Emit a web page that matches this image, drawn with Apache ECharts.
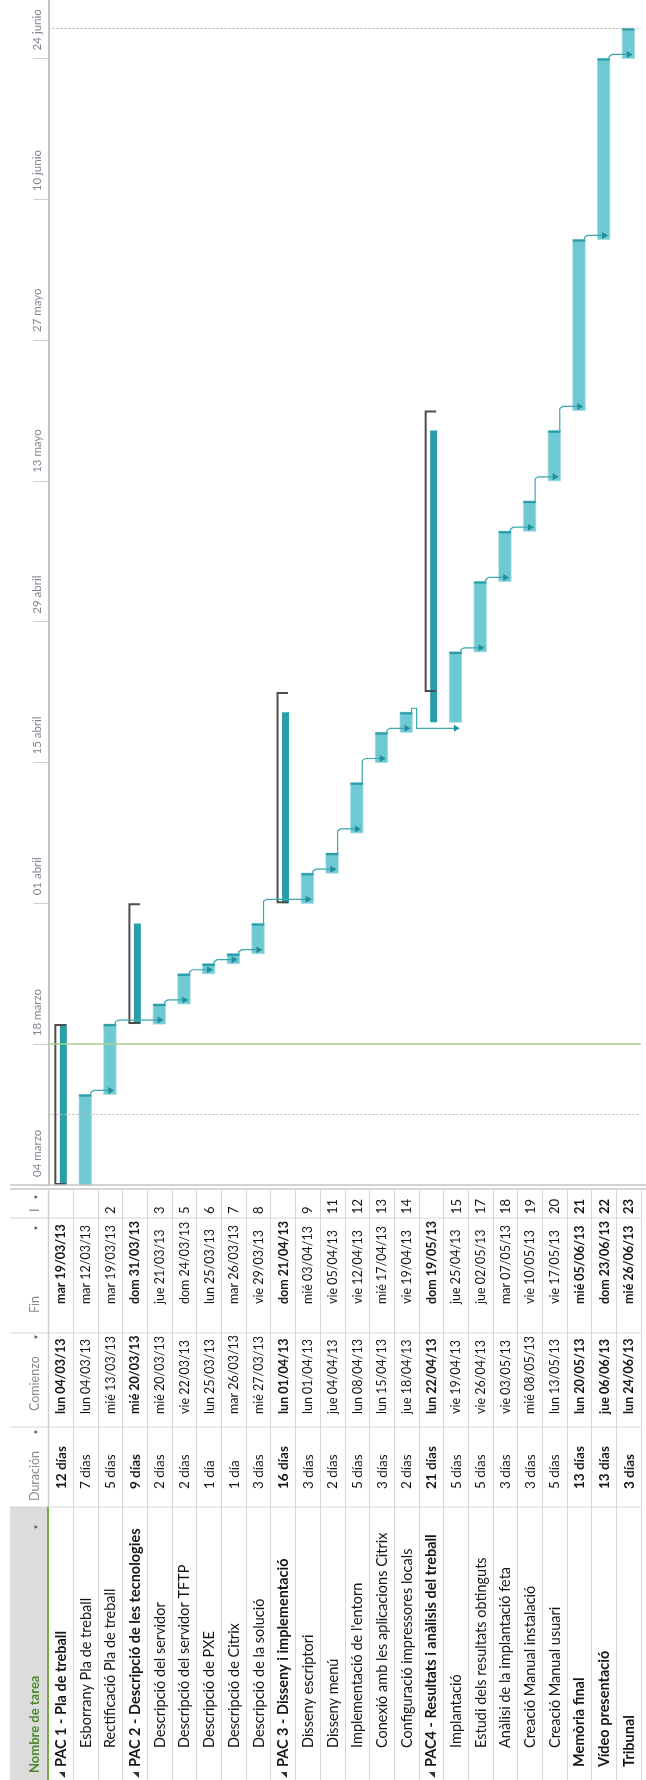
<!DOCTYPE html>
<html><head><meta charset="utf-8">
<script src="https://cdn.jsdelivr.net/npm/echarts@6/dist/echarts.min.js"></script>
<style>html,body{margin:0;padding:0;background:#fff}#c{width:646px;height:1780px}</style>
</head><body><div id="c"></div>
<script>
// ---------------- DATA ----------------
const taskNames = [
  'PAC 1 - Pla de treball','Esborrany Pla de treball','Rectificació Pla de treball',
  'PAC 2 - Descripció de les tecnologies','Descripció del servidor','Descripció del servidor TFTP',
  'Descripció de PXE','Descripció de Citrix','Descripció de la solució',
  'PAC 3 - Disseny i implementació','Disseny escriptori','Disseny menú',
  "Implementació de l'entorn",'Conexió amb les aplicacions Citrix','Configuració impressores locals',
  'PAC4 - Resultats i anàlisis del treball','Implantació','Estudi dels resultats obtinguts',
  'Anàlisi de la implantació feta','Creació Manual instalació','Creació Manual usuari',
  'Memòria final','Vídeo presentació','Tribunal'
];
const durations = [12,7,5,9,2,2,1,1,3,16,3,2,5,3,2,21,5,5,3,3,5,13,13,3];
const startDates = [
  '2013-03-04','2013-03-04','2013-03-13','2013-03-20','2013-03-20','2013-03-22',
  '2013-03-25','2013-03-26','2013-03-27','2013-04-01','2013-04-01','2013-04-04',
  '2013-04-08','2013-04-15','2013-04-18','2013-04-22','2013-04-19','2013-04-26',
  '2013-05-03','2013-05-08','2013-05-13','2013-05-20','2013-06-06','2013-06-24'
];
const endDates = [
  '2013-03-19','2013-03-12','2013-03-19','2013-03-31','2013-03-21','2013-03-24',
  '2013-03-25','2013-03-26','2013-03-29','2013-04-21','2013-04-03','2013-04-05',
  '2013-04-12','2013-04-17','2013-04-19','2013-05-19','2013-04-25','2013-05-02',
  '2013-05-07','2013-05-10','2013-05-17','2013-06-05','2013-06-23','2013-06-26'
];
const predecessors = ['','','2','','3','5','6','7','8','','9','11','12','13','14','','15','17','18','19','20','21','22','23'];
const outlineLevel = [0,1,1,0,1,1,1,1,1,0,1,1,1,1,1,0,1,1,1,1,1,0,0,0];
const isSummary    = [1,0,0,1,0,0,0,0,0,1,0,0,0,0,0,1,0,0,0,0,0,0,0,0];
const columnTitles = ['Nombre de tarea','Duración','Comienzo','Fin','I'];
const tickLabels = ['04 marzo','18 marzo','01 abril','15 abril','29 abril','13 mayo','27 mayo','10 junio','24 junio'];
const axisStart = '2013-03-04';
const tickDays = 14;
const currentDate = '2013-03-18';
const markerDates = ['2013-03-11','2013-06-27'];
const dayNames = ['dom','lun','mar','mié','jue','vie','sáb'];

// ---------------- HELPERS ----------------
function utc(s){const p=s.split('-').map(Number);return Date.UTC(p[0],p[1]-1,p[2]);}
const T0 = utc(axisStart);
function dayOf(s){return (utc(s)-T0)/86400000;}
function fmtDate(s){const d=new Date(utc(s));const p=n=>String(n).padStart(2,'0');
  return dayNames[d.getUTCDay()]+' '+p(d.getUTCDate())+'/'+p(d.getUTCMonth()+1)+'/'+String(d.getUTCFullYear()).slice(2);}
function fmtDur(n){return n+(n===1?' día':' días');}

const FONT='Lato';
const C_BAR='#6fc9d2', C_BAR_EDGE='#a3dde3', C_DARK='#2a9ea8', C_LINK='#3aa7b1';
const TXT='#161616';

// rollup spans of summary tasks
const rollStart=[], rollEnd=[];
for(let i=0;i<taskNames.length;i++){
  if(isSummary[i]){
    let s=Infinity,e=-Infinity;
    for(let j=i+1;j<taskNames.length && outlineLevel[j]>0;j++){
      s=Math.min(s,dayOf(startDates[j]));e=Math.max(e,dayOf(endDates[j])+1);
    }
    rollStart.push(s);rollEnd.push(e);
  } else {rollStart.push(0);rollEnd.push(0);}
}
const barData = taskNames.map((n,i)=>[i,dayOf(startDates[i]),dayOf(endDates[i])+1,isSummary[i],rollStart[i],rollEnd[i]]);
const linkData = [];
predecessors.forEach((p,i)=>{ if(p!==''){const k=Number(p)-1; linkData.push([k,dayOf(endDates[k])+1,i,dayOf(startDates[i])]);} });

// ---------------- RENDERERS ----------------
function renderBar(params, api){
  const i=api.value(0), s=api.value(1), e=api.value(2), summ=api.value(3);
  const bw=api.size([1,0])[0];
  const p0=api.coord([i,s]), p1=api.coord([i,e]);
  const cx=p0[0], hw=bw*0.25;
  const ch=[];
  if(!summ){
    ch.push({type:'rect',shape:{x:cx-hw-0.3,y:p1[1],width:2*hw,height:p0[1]-p1[1]},style:{fill:C_BAR,stroke:C_BAR_EDGE,lineWidth:0.8}});
    ch.push({type:'rect',shape:{x:cx-hw-0.3,y:p1[1],width:2*hw,height:2.2},style:{fill:C_DARK}});
  } else {
    const r0=api.coord([i,api.value(4)]), r1=api.coord([i,api.value(5)]);
    ch.push({type:'rect',shape:{x:cx-1,y:r1[1],width:hw+0.8,height:r0[1]-r1[1]},style:{fill:C_DARK}});
    ch.push({type:'polyline',shape:{points:[[cx+5,p1[1]+1],[cx-5.5,p1[1]+1],[cx-5.5,p0[1]-1],[cx+5,p0[1]-1]]},
      style:{stroke:'#4d4d4d',lineWidth:2,fill:null}});
  }
  return {type:'group',children:ch};
}
function renderLink(params, api){
  const a=api.coord([api.value(0),api.value(1)]), b=api.coord([api.value(2),api.value(3)]);
  const bw=api.size([1,0])[0], hw=bw*0.25;
  const xs=a[0]+hw-1, tipX=b[0]+4;
  let pts, yl;
  if(b[1] <= a[1]+0.5){
    yl=b[1]-4;
    pts=[[xs,a[1]],[xs,yl+2],[xs+3,yl],[tipX-5,yl]];
  } else {
    const y1=a[1]-4, xm=xs+5; yl=b[1]+6;
    pts=[[xs,a[1]],[xs,y1],[xm,y1],[xm,yl],[tipX-5,yl]];
  }
  return {type:'group',children:[
    {type:'polyline',shape:{points:pts},style:{stroke:C_LINK,lineWidth:1.2,fill:null}},
    {type:'polygon',shape:{points:[[tipX,yl],[tipX-6,yl-3.5],[tipX-6,yl+3.5]]},style:{fill:'#1f8f99'}}
  ]};
}
function vtext(x,y,str,o){
  o=o||{};
  const st={text:str,fill:o.color||TXT,fontFamily:FONT,fontSize:o.size||12.5,
    fontWeight:o.bold?'bold':'normal',align:o.align||'left',verticalAlign:'middle'};
  if(o.width){st.width=o.width;st.overflow='truncate';st.ellipsis='';}
  return {type:'text',x:x,y:y,rotation:Math.PI/2,style:st};
}
// table column offsets (from table top) and text sizes
const COL={pred:24,fin:114,com:224,dur:299,nameSum:577,nameTri:585,nameTop:577,nameChild:558,nameBorder:317};
const SZ={name:14.5,dur:13.5,date:12.5,pred:13};
function renderRow(params, api){
  const i=api.value(0);
  const bold=outlineLevel[i]===0;
  const x=api.coord([i,0])[0]+0.5;
  const Y=v=>api.coord([i,v])[1];
  const ch=[];
  if(isSummary[i]){
    ch.push(vtext(x,Y(COL.nameTri),'◢',{size:8,color:'#333',align:'center'}));
    ch.push(vtext(x,Y(COL.nameSum),taskNames[i],{bold:true,size:SZ.name,width:COL.nameSum-COL.nameBorder-2}));
  } else if(bold){
    ch.push(vtext(x,Y(COL.nameTop),taskNames[i],{bold:true,size:SZ.name,width:COL.nameTop-COL.nameBorder-2}));
  } else {
    ch.push(vtext(x,Y(COL.nameChild),taskNames[i],{size:SZ.name,width:COL.nameChild-COL.nameBorder-2}));
  }
  ch.push(vtext(x,Y(COL.dur),fmtDur(durations[i]),{bold,size:SZ.dur}));
  ch.push(vtext(x,Y(COL.com),fmtDate(startDates[i]),{bold,size:SZ.date}));
  ch.push(vtext(x,Y(COL.fin),fmtDate(endDates[i]),{bold,size:SZ.date}));
  if(predecessors[i]!=='') ch.push(vtext(x,Y(COL.pred),predecessors[i],{bold,size:SZ.pred}));
  return {type:'group',children:ch};
}
function renderFrame(params, api){
  const cs=params.coordSys; const L=cs.x-38.5, R=cs.x+cs.width, T=cs.y, B=cs.y+cs.height;
  const hx=cs.x-13.5;
  const ch=[];
  ch.push({type:'rect',shape:{x:L,y:T+317,width:cs.x-L,height:B-T-317},style:{fill:'#dcdcdc'}});
  ch.push({type:'line',shape:{x1:L,y1:T-5,x2:646,y2:T-5},style:{stroke:'#c4c4c4',lineWidth:1.6}});
  ch.push({type:'line',shape:{x1:L,y1:T-1,x2:646,y2:T-1},style:{stroke:'#c8c8c8',lineWidth:1.6}});
  [28,143,237,317].forEach(v=>ch.push({type:'line',shape:{x1:L,y1:T+v,x2:R,y2:T+v},style:{stroke:'#d6d6d6',lineWidth:1}}));
  ch.push({type:'line',shape:{x1:cs.x,y1:T,x2:cs.x,y2:T+317},style:{stroke:'#cfcfcf',lineWidth:1.5}});
  ch.push({type:'line',shape:{x1:cs.x-0.5,y1:T+317,x2:cs.x-0.5,y2:B},style:{stroke:'#70ad47',lineWidth:2}});
  // header titles: [column, text start offset, arrow offset]
  const hdr=[[0,583,337],[1,311,242],[2,221,147],[3,123,38],[4,22,7]];
  hdr.forEach(([k,start,arr])=>{
    ch.push(vtext(hx,T+start,columnTitles[k],k===0?{bold:true,size:13,color:'#4e8a2e'}:{size:12.5,color:'#8a8a8a'}));
    ch.push(vtext(hx+1,T+arr,'▼',{size:6,color:'#555',align:'center'}));
  });
  return {type:'group',children:ch};
}

// ---------------- CHART ----------------
const chart = echarts.init(document.getElementById('c'), null, {renderer:'canvas'});
const ymax = 1185/10.059;
chart.setOption({
  animation:false,
  backgroundColor:'#ffffff',
  grid:[
    {left:48.5,right:5,top:0,bottom:595},
    {left:48.5,right:5,top:1190,bottom:0}
  ],
  xAxis:[
    {type:'category',gridIndex:0,data:taskNames,boundaryGap:true,
      axisLabel:{show:false},axisTick:{show:false},axisLine:{show:false},splitLine:{show:false}},
    {type:'category',gridIndex:1,data:taskNames,boundaryGap:true,
      axisLabel:{show:false},axisTick:{show:false},axisLine:{show:false},
      splitLine:{show:true,interval:0,lineStyle:{color:'#d6d6d6',width:1}}}
  ],
  yAxis:[
    {type:'value',gridIndex:0,min:0,max:ymax,interval:tickDays,position:'left',
      axisLine:{show:true,onZero:false,lineStyle:{color:'#c4c4c4',width:2}},
      axisTick:{show:true,length:15,lineStyle:{color:'#cfcfcf',width:1}},
      splitLine:{show:false},
      axisLabel:{show:true,rotate:90,align:'left',verticalAlign:'middle',margin:11,padding:[0,0,0,8],
        color:'#7d8794',fontFamily:FONT,fontSize:11.5,showMaxLabel:false,
        formatter:v=>tickLabels[Math.round(v/tickDays)]||''}},
    {type:'value',gridIndex:1,min:0,max:590,inverse:true,show:false}
  ],
  series:[
    {type:'line',xAxisIndex:0,yAxisIndex:0,data:[],z:1,silent:true,
      markLine:{silent:true,symbol:'none',label:{show:false},animation:false,data:[
        {yAxis:dayOf(currentDate),lineStyle:{color:'#a9d18e',width:1.5,type:'solid'}},
        ...markerDates.map(d=>({yAxis:dayOf(d),lineStyle:{color:'#b5b5b5',width:1,type:[2,2]}}))
      ]}},
    {type:'custom',name:'links',xAxisIndex:0,yAxisIndex:0,renderItem:renderLink,data:linkData,
      encode:{x:[0,2],y:[1,3]},z:3,clip:false,silent:true},
    {type:'custom',name:'tasks',xAxisIndex:0,yAxisIndex:0,renderItem:renderBar,data:barData,
      encode:{x:0,y:[1,2]},z:2,silent:true},
    {type:'custom',name:'table',xAxisIndex:1,yAxisIndex:1,renderItem:renderRow,
      data:taskNames.map((n,i)=>[i]),encode:{x:0},z:3,clip:false,silent:true},
    {type:'custom',name:'frame',xAxisIndex:1,yAxisIndex:1,renderItem:renderFrame,
      data:[[0]],encode:{x:0},z:2,clip:false,silent:true}
  ]
});
</script></body></html>
